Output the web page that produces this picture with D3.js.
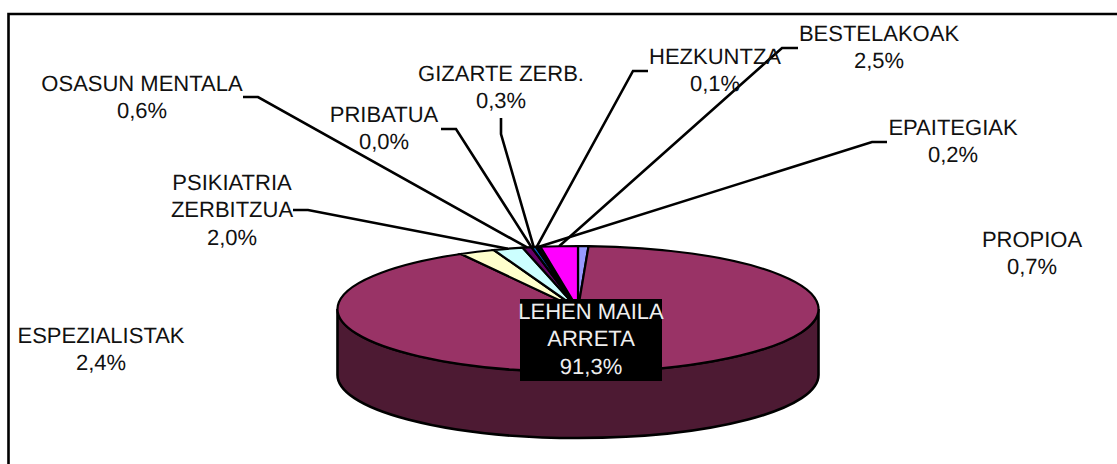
<!DOCTYPE html>
<html>
<head>
<meta charset="utf-8">
<script src="https://cdn.jsdelivr.net/npm/d3@7"></script>
<style>
    html, body { margin: 0; padding: 0; background: #fff; }
    svg { display: block; }
    text { font-family: "Liberation Sans", Arial, sans-serif; font-size: 22px; text-rendering: geometricPrecision; }
</style>
</head>
<body>
<div id="chart"></div>
<script>
const width = 1117;
const height = 464;

const categories = [
    ["PROPIOA"],
    ["LEHEN MAILA", "ARRETA"],
    ["ESPEZIALISTAK"],
    ["PSIKIATRIA", "ZERBITZUA"],
    ["OSASUN MENTALA"],
    ["PRIBATUA"],
    ["GIZARTE ZERB."],
    ["HEZKUNTZA"],
    ["EPAITEGIAK"],
    ["BESTELAKOAK"],
];
const values = [0.7, 91.3, 2.4, 2.0, 0.6, 0.0, 0.3, 0.1, 0.2, 2.5];
const sliceColors = ["#9999ff", "#993366", "#ffffcc", "#ccffff", "#660066", "#ff8080", "#0066cc", "#ccccff", "#000080", "#ff00ff"];

// label centre + first baseline
const labelX = [1032, 591, 101, 232, 142, 384, 501, 715, 953, 879];
const labelY = [247, 319, 343, 190, 91, 122, 81, 64, 135, 41];
// leader: tail end, elbow (then on to the rim of the slice)
const leaders = [
    null,
    null,
    null,
    [[293, 210], [308, 210]],
    [[243, 97], [258, 97]],
    [[441, 129], [456, 129]],
    [[501, 118], [501, 134]],
    [[648, 71], [633, 71]],
    [[887, 142], [872, 142]],
    [[798, 48], [782, 48]],
];

const cx = 578;
const cy = 309;
const rx = 240.5;
const ry = 63;
const depth = 66;
const lineH = 27.3;

const svg = d3.select("#chart").append("svg").attr("width", width).attr("height", height);

// Chart frame (only top and left are inside the picture)
svg.append("path")
    .attr("d", `M${width},14 H8.5 V${height}`)
    .attr("fill", "none")
    .attr("stroke", "#000")
    .attr("stroke-width", 2.6);

const pie = d3.pie().sort(null).value((d) => d);
const arcs = pie(values);

// Side of the cylinder
svg.append("path")
    .attr("d", `M${cx - rx},${cy} V${cy + depth} A${rx},${ry} 0 0 0 ${cx + rx},${cy + depth} V${cy} A${rx},${ry} 0 0 1 ${cx - rx},${cy} Z`)
    .attr("fill", "#4d1a33")
    .attr("stroke", "#000")
    .attr("stroke-width", 2.6);

// Top of the pie: round arc squashed into an ellipse
const arc = d3.arc().innerRadius(0).outerRadius(rx);
svg.append("g")
    .attr("transform", `translate(${cx},${cy}) scale(1,${ry / rx})`)
    .selectAll("path")
    .data(arcs)
    .join("path")
    .attr("d", arc)
    .attr("fill", (d, i) => sliceColors[i])
    .attr("stroke", "#000")
    .attr("stroke-width", 2.2)
    .attr("vector-effect", "non-scaling-stroke");

// Leader lines
const rimPoint = (d) => {
    const a = (d.startAngle + d.endAngle) / 2;
    return [cx + rx * Math.sin(a), cy - ry * Math.cos(a)];
};
svg.append("g")
    .selectAll("polyline")
    .data(arcs.filter((d, i) => leaders[i]))
    .join("polyline")
    .attr("points", (d) => [...leaders[d.index], rimPoint(d)].join(" "))
    .attr("fill", "none")
    .attr("stroke", "#000")
    .attr("stroke-width", 2.6);

// Labels
const labels = svg.append("g")
    .selectAll("g")
    .data(arcs)
    .join("g")
    .attr("transform", (d, i) => `translate(${labelX[i]},${labelY[i]})`);

labels.filter((d) => d.index === 1)
    .append("rect")
    .attr("x", -71)
    .attr("y", -20)
    .attr("width", 142)
    .attr("height", 82)
    .attr("fill", "#000");

labels.each(function (d, i) {
    const rows = categories[i].concat(`${values[i].toFixed(1).replace(".", ",")}%`);
    d3.select(this)
        .selectAll("text")
        .data(rows)
        .join("text")
        .attr("y", (r, k) => k * lineH)
        .attr("text-anchor", "middle")
        .attr("fill", i === 1 ? "#eee" : "#111")
        .text((r) => r);
});
</script>
</body>
</html>
